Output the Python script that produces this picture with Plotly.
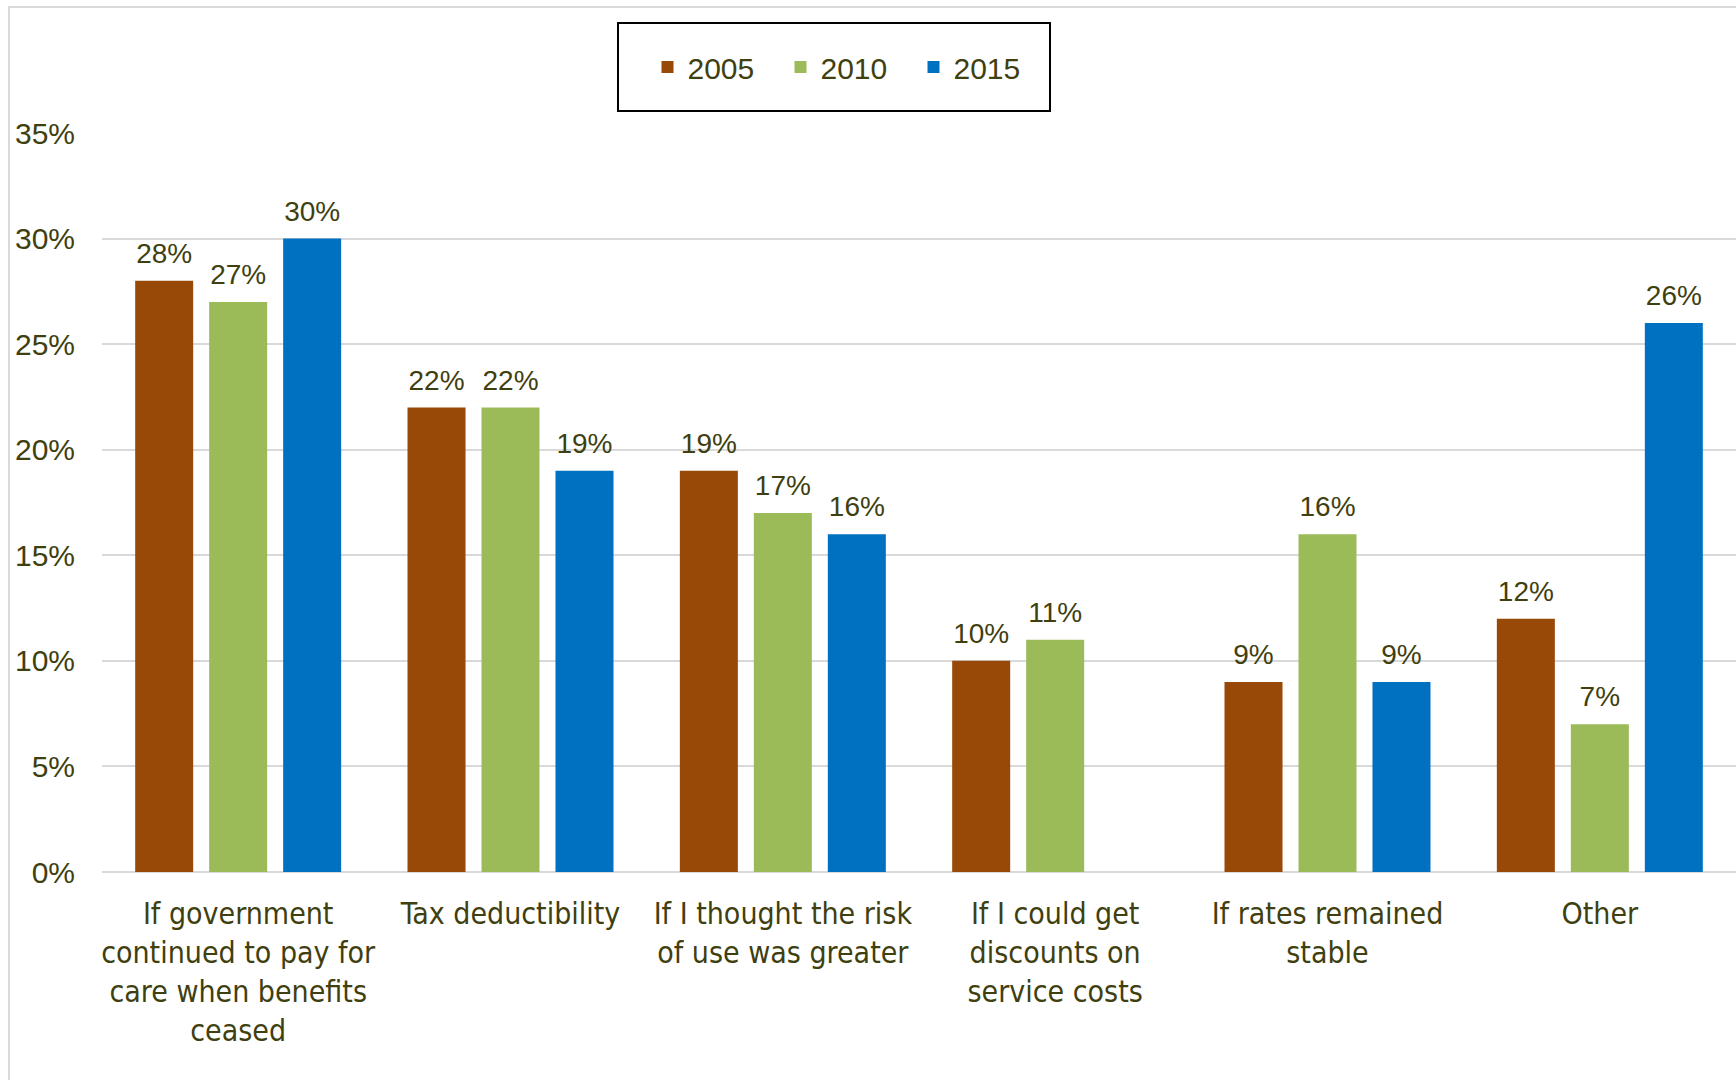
import plotly.graph_objects as go

# Survey reasons, share of respondents by survey year
categories = [
    "If government<br>continued to pay for<br>care when benefits<br>ceased",
    "Tax deductibility",
    "If I thought the risk<br>of use was greater",
    "If I could get<br>discounts on<br>service costs",
    "If rates remained<br>stable",
    "Other",
]
years = ["2005", "2010", "2015"]
share_2005 = [0.28, 0.22, 0.19, 0.10, 0.09, 0.12]
share_2010 = [0.27, 0.22, 0.17, 0.11, 0.16, 0.07]
share_2015 = [0.30, 0.19, 0.16, None, 0.09, 0.26]
y_ticks = [0, 0.05, 0.10, 0.15, 0.20, 0.25, 0.30, 0.35]

colors = ["#984807", "#9BBB59", "#0070C0"]
text_color = "#3F3F10"
label_lift = 0.0042  # extra clearance between bar top and its value label

W, H = 1736, 1080
L, R, T, B = 102, 0, 133, 208
plot_w = W - L - R
plot_h = H - T - B


def px_x(px):
    return (px - L) / plot_w


def px_y(py):
    return (H - B - py) / plot_h


fig = go.Figure()
for j, (name, vals, col) in enumerate(zip(years, [share_2005, share_2010, share_2015], colors)):
    fig.add_trace(go.Bar(
        x=categories,
        y=vals,
        name=name,
        offsetgroup=str(j),
        marker=dict(color=col, line=dict(width=0)),
    ))
    # value labels, placed just above each bar of this series
    fig.add_trace(go.Bar(
        x=categories,
        y=vals,
        base=label_lift,
        offsetgroup=str(j),
        showlegend=False,
        hoverinfo="skip",
        marker=dict(color="rgba(0,0,0,0)", line=dict(width=0)),
        texttemplate="%{y:.0%}",
        textposition="outside",
        textfont=dict(family="Liberation Sans, Arial, sans-serif", size=28, color=text_color),
        cliponaxis=False,
    ))

# outer chart frame
fig.add_shape(type="rect", xref="paper", yref="paper",
              x0=px_x(9), x1=px_x(1745), y0=px_y(1090), y1=px_y(7),
              line=dict(color="#D9D9D9", width=2), fillcolor="rgba(0,0,0,0)", layer="below")
# legend frame
fig.add_shape(type="rect", xref="paper", yref="paper",
              x0=px_x(618), x1=px_x(1050), y0=px_y(111), y1=px_y(23),
              line=dict(color="#000000", width=2), fillcolor="rgba(0,0,0,0)")

fig.update_layout(
    width=W, height=H,
    margin=dict(l=L, r=R, t=T, b=B, pad=0),
    paper_bgcolor="white", plot_bgcolor="white",
    barmode="group",
    bargap=0.185,
    bargroupgap=0.216,
    showlegend=True,
    legend=dict(
        orientation="h",
        x=px_x(847), xanchor="center",
        y=px_y(67), yanchor="middle",
        font=dict(family="Liberation Sans, Arial, sans-serif", size=30, color=text_color),
        bgcolor="rgba(0,0,0,0)",
        borderwidth=0,
        entrywidth=88,
        itemclick=False,
    ),
    xaxis=dict(
        showgrid=False, showline=False, zeroline=False,
        ticks="", ticklabelstandoff=21,
        tickfont=dict(family="DejaVu Sans Condensed, DejaVu Sans, sans-serif", size=30, color=text_color),
        tickangle=0,
    ),
    yaxis=dict(
        range=[0, 0.35],
        tickvals=y_ticks,
        tickformat=".0%",
        showgrid=True, gridcolor="#D9D9D9", gridwidth=2,
        zeroline=True, zerolinecolor="#D9D9D9", zerolinewidth=2,
        showline=False, ticks="", ticklabelstandoff=26,
        tickfont=dict(family="Liberation Sans, Arial, sans-serif", size=30, color=text_color),
    ),
)

fig.write_html("out.html")
